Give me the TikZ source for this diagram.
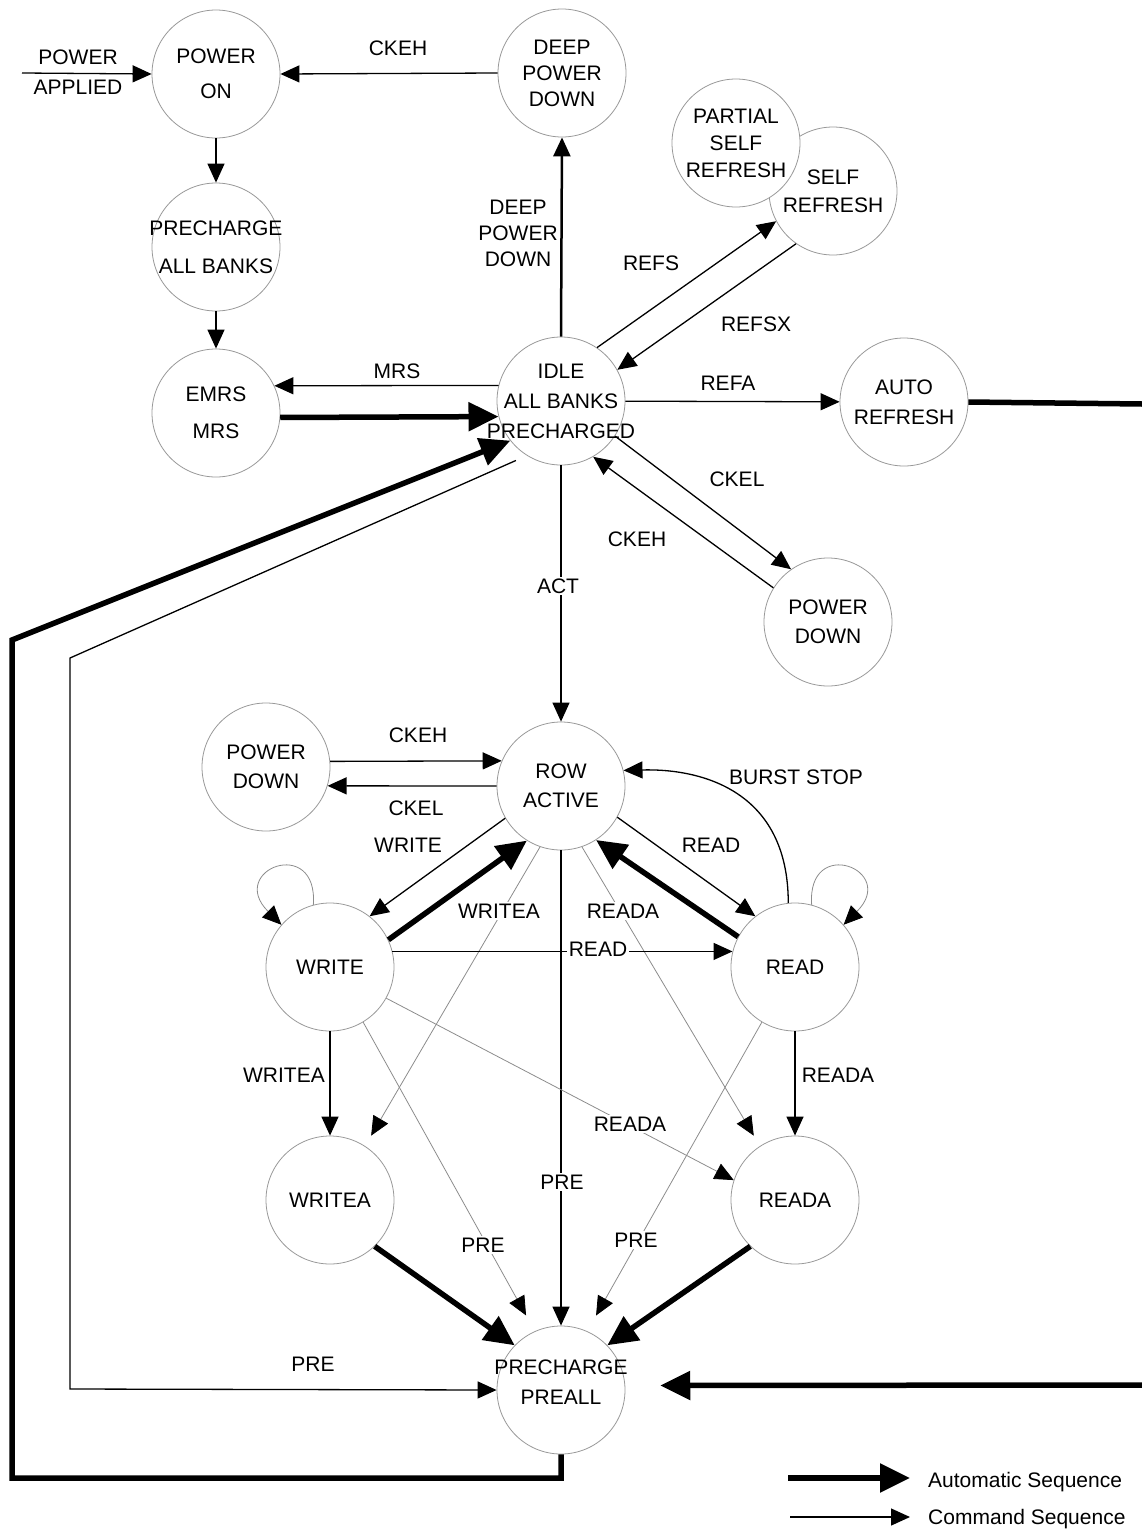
\documentclass[tikz,border=0pt]{standalone}
\usepackage{fontspec}
\setmainfont{Liberation Sans}
\usetikzlibrary{arrows.meta}

\begin{document}
\begin{tikzpicture}[x=1pt, y=-1pt, font=\fontsize{21}{28}\selectfont]
	\tikzstyle{state}=[circle, draw=black!40, line width=0.8pt, fill=white, minimum size=128pt, inner sep=0pt]
	\tikzstyle{every label}=[align=center]
	\tikzstyle{cmdseq}=[line width=1.3pt, -{Triangle[length=19pt, width=17pt]}]
	\tikzstyle{autoseq}=[line width=5.5pt, -{Triangle[length=30pt, width=28pt]}]
	\tikzstyle{gcmd}=[draw=black!45, line width=0.8pt, -{Triangle[length=19pt, width=17pt, color=black]}]
	\tikzstyle{tag}=[align=center, inner sep=2pt]
	\tikzstyle{ontag}=[tag, fill=white]

	\useasboundingbox (0,0) rectangle (1142,1531);

	% states
	\node[state, label={center:POWER\\[7pt]ON}] (pon) at (216,74) {};
	\node[state, label={center:DEEP\\[-2pt]POWER\\[-2pt]DOWN}] (dpd) at (562,73) {};
	\node[state, label={center:SELF\\REFRESH}] (sr) at (833,191) {};
	\node[state, label={center:PARTIAL\\[-1pt]SELF\\[-1pt]REFRESH}] (psr) at (736,143) {};
	\node[state, label={center:PRECHARGE\\[10pt]ALL BANKS}] (pcab) at (216,247) {};
	\node[state, label={center:EMRS\\[9pt]MRS}] (emrs) at (216,413) {};
	\node[state, label={center:IDLE\\[2pt]ALL BANKS\\[2pt]PRECHARGED}] (idle) at (561,401) {};
	\node[state, label={center:AUTO\\[2pt]REFRESH}] (aref) at (904,402) {};
	\node[state, label={center:POWER\\[1pt]DOWN}] (pdr) at (828,622) {};
	\node[state, label={center:ROW\\[1pt]ACTIVE}] (row) at (561,786) {};
	\node[state, label={center:POWER\\[1pt]DOWN}] (pdl) at (266,767) {};
	\node[state, label=center:WRITE] (wr) at (330,967) {};
	\node[state, label=center:READ] (rd) at (795,967) {};
	\node[state, label=center:WRITEA] (wra) at (330,1200) {};
	\node[state, label=center:READA] (rda) at (795,1200) {};
	\node[state, label={[yshift=8pt]center:PRECHARGE\\[2pt]PREALL}] (prea) at (561,1390) {};

	% free ends and bends
	\coordinate (papp) at (22,73);
	\coordinate (arout) at (1142,404);
	\coordinate (prin) at (1142,1385);
	\coordinate (loopa) at (12,1478);
	\coordinate (loopb) at (12,640);
	\coordinate (loopc) at (70,658);
	\coordinate (loopd) at (70,1389);
	\coordinate (autoa) at (788,1478);
	\coordinate (autob) at (910,1478);
	\coordinate (cmda) at (790,1517);
	\coordinate (cmdb) at (910,1517);

	% power up
	\draw[cmdseq] (papp) -- (pon.west);
	\draw[cmdseq] (dpd.west) -- (pon.east);
	\draw[cmdseq] (pon.south) -- (pcab.north);
	\draw[cmdseq] (pcab.south) -- (emrs.north);
	\draw[cmdseq] (idle.166) -- (emrs.25);
	\draw[autoseq] (emrs.-4) -- (idle.194);

	% around idle
	\draw[cmdseq, line width=2.5pt] (idle.north) -- (dpd.south);
	\draw[cmdseq] (idle.56) -- (sr.208);
	\draw[cmdseq] (sr.235) -- (idle.29);
	\draw[cmdseq] (idle) -- (aref);
	\draw[line width=5.5pt] (aref.east) -- (arout);
	\draw[cmdseq] (idle.-33) -- (pdr.125);
	\draw[cmdseq] (pdr.148) -- (idle.-60);
	\draw[autoseq] (prea.south) |- (loopa) -- (loopb) -- (idle.218);
	\draw[cmdseq, shorten <=12pt] (idle.238) -- (loopc) -- (loopd) -- (prea.west);
	\draw[cmdseq] (idle.south) -- (row.north);

	% around row active
	\draw[cmdseq] (pdl.5) -- (row.157);
	\draw[cmdseq] (row.west) -- (pdl.-17);
	\draw[cmdseq] (row.210) -- (wr.52);
	\draw[autoseq] (wr.25) -- (row.238);
	\draw[cmdseq] (row.-29) -- (rd.128);
	\draw[autoseq] (rd.152) -- (row.-57);
	\draw[cmdseq] (rd.96) .. controls +(0,-113) and +(77,-2) .. (row.14);
	\draw[gcmd] (wr.105) .. controls +(5,-70) and +(-55,-55) .. (wr.139);
	\draw[gcmd] (rd.75) .. controls +(-5,-70) and +(55,-55) .. (rd.41);
	\draw[gcmd, shorten >=12pt] (row.251) -- (wra.57);
	\draw[gcmd, shorten >=12pt] (row.-71) -- (rda.123);
	\draw[cmdseq] (wr.14) -- (rd.166);
	\draw[cmdseq] (row.south) -- (prea.north);
	\draw[cmdseq] (wr.south) -- (wra.north);
	\draw[cmdseq] (rd.south) -- (rda.north);
	\draw[gcmd] (wr.-29) -- (rda.162);
	\draw[gcmd, shorten >=18pt] (wr.-59) -- (prea.114);
	\draw[gcmd, shorten >=18pt] (rd.239) -- (prea.66);
	\draw[autoseq] (wra.-46) -- (prea.136);
	\draw[autoseq] (rda.226) -- (prea.44);
	\draw[autoseq, shorten >=35pt] (prin) -- (prea.4);

	% legend
	\draw[autoseq] (autoa) -- (autob);
	\draw[cmdseq] (cmda) -- (cmdb);

	% labels
	\node[tag] (tpapp) at (78,72) {POWER\\[2pt]APPLIED};
	\node[tag] (tckeh) at (398,48) {CKEH};
	\node[tag] (tdpd) at (518,233) {DEEP\\[-2pt]POWER\\[-2pt]DOWN};
	\node[tag] (trefs) at (651,263) {REFS};
	\node[tag] (trefsx) at (756,324) {REFSX};
	\node[tag] (tmrs) at (397,371) {MRS};
	\node[tag] (trefa) at (728,383) {REFA};
	\node[tag] (tckel) at (737,479) {CKEL};
	\node[tag] (tckeh2) at (637,539) {CKEH};
	\node[ontag] (tact) at (558,586) {ACT};
	\node[tag] (tckeh3) at (418,735) {CKEH};
	\node[tag] (tckel3) at (416,808) {CKEL};
	\node[tag] (twrite) at (408,845) {WRITE};
	\node[tag] (tread) at (711,845) {READ};
	\node[tag] (tburst) at (796,777) {BURST STOP};
	\node[ontag] (twritea) at (499,911) {WRITEA};
	\node[ontag] (treada) at (623,911) {READA};
	\node[ontag] (tread2) at (598,949) {READ};
	\node[tag] (twritea2) at (284,1075) {WRITEA};
	\node[tag] (treada2) at (838,1075) {READA};
	\node[ontag] (treada3) at (630,1124) {READA};
	\node[ontag] (tpre1) at (562,1182) {PRE};
	\node[ontag] (tpre2) at (483,1245) {PRE};
	\node[ontag] (tpre3) at (636,1240) {PRE};
	\node[tag] (tpre4) at (313,1364) {PRE};
	\node[tag, anchor=west] (tauto) at (926,1482) {Automatic Sequence};
	\node[tag, anchor=west] (tcmd) at (926,1519) {Command Sequence};
\end{tikzpicture}
\end{document}
